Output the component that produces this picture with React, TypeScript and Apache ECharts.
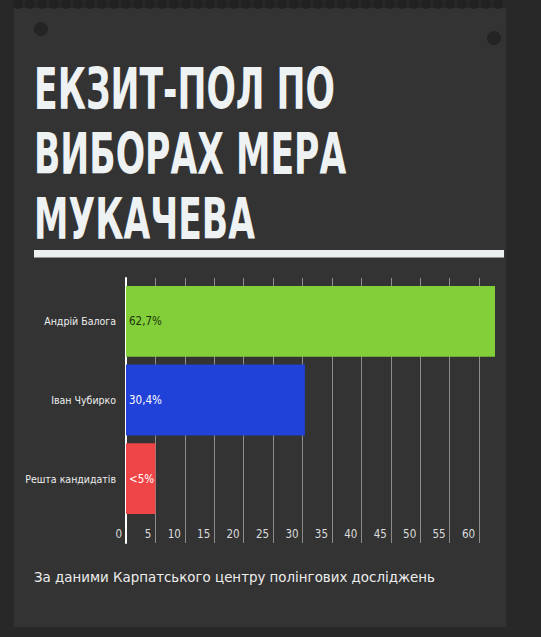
import React, { useEffect, useRef } from "react";
import * as echarts from "echarts";

const categories = ["Андрій Балога", "Іван Чубирко", "Решта кандидатів"];
const values = [62.7, 30.4, 5];
const valueLabels = ["62,7%", "30,4%", "<5%"];
const barColors = ["#83cf39", "#2142d9", "#ef4547"];
const labelColors = ["#1d330c", "#ffffff", "#ffffff"];
const titleLines = ["ЕКЗИТ-ПОЛ ПО", "ВИБОРАХ МЕРА", "МУКАЧЕВА"];
const footnote = "За даними Карпатського центру полінгових досліджень";
const axisMax = 62.7;
const tickStep = 5;

const NARROW = '"DejaVu Sans Condensed", "Liberation Sans Narrow", sans-serif';

export default function App() {
  const ref = useRef<HTMLDivElement>(null);
  useEffect(() => {
    if (!ref.current) return;
    const chart = echarts.init(ref.current, null, { renderer: "svg" });

    const scallops: any[] = [];
    for (let x = 18; x <= 504; x += 12) {
      scallops.push({
        type: "circle",
        shape: { cx: x, cy: 4, r: 5 },
        style: { fill: "#222222" },
        silent: true,
      });
    }

    const titleTexts = titleLines.map((t, i) => ({
      type: "text",
      x: 34,
      y: 89 + i * 65,
      scaleX: 0.675,
      style: {
        text: t,
        fill: "#eef2f3",
        font: 'bold 57px "DejaVu Sans Condensed", "DejaVu Sans", sans-serif',
        verticalAlign: "middle",
        align: "left",
      },
    }));

    chart.setOption({
      animation: false,
      backgroundColor: "#282828",
      graphic: [
        { type: "rect", shape: { x: 14, y: 8, width: 492, height: 619 }, style: { fill: "#333333" }, silent: true, z: -10 },
        ...scallops,
        { type: "circle", shape: { cx: 41, cy: 29, r: 7 }, style: { fill: "#242424" } },
        { type: "circle", shape: { cx: 494, cy: 38, r: 7 }, style: { fill: "#242424" } },
        ...titleTexts,
        { type: "rect", shape: { x: 34, y: 250, width: 470, height: 7.5 }, style: { fill: "#ecf0f1" } },
        {
          type: "text",
          x: 34,
          y: 577,
          style: {
            text: footnote,
            fill: "#eeeeee",
            font: '13.4px "DejaVu Sans", sans-serif',
            verticalAlign: "middle",
          },
        },
      ],
      grid: [
        { left: 126, right: 46, top: 282, bottom: 119 },
        { left: 126, right: 46, top: 278, bottom: 94 },
      ],
      xAxis: [
        { gridIndex: 0, type: "value", min: 0, max: axisMax, show: false },
        {
          gridIndex: 1,
          type: "value",
          min: 0,
          max: axisMax,
          interval: tickStep,
          axisLine: { show: false },
          axisTick: { show: false },
          splitLine: { show: true, showMinLine: false, showMaxLine: false, lineStyle: { color: "#8c8c8c", width: 1 } },
          axisLabel: {
            inside: true,
            margin: 3,
            align: "right",
            padding: [0, 4, 0, 0],
            color: "#dddddd",
            fontSize: 11.5,
            fontFamily: NARROW,
            showMaxLabel: false,
          },
        },
      ],
      yAxis: [
        {
          gridIndex: 0,
          type: "category",
          data: categories,
          inverse: true,
          axisLine: { show: false },
          axisTick: { show: false },
          splitLine: { show: false },
          axisLabel: { color: "#eeeeee", fontSize: 10.5, margin: 10, fontFamily: NARROW },
        },
        {
          gridIndex: 1,
          type: "value",
          axisLine: { show: true, lineStyle: { color: "#ffffff", width: 2 } },
          axisTick: { show: false },
          axisLabel: { show: false },
          splitLine: { show: false },
        },
      ],
      series: [
        {
          type: "bar",
          xAxisIndex: 0,
          yAxisIndex: 0,
          barCategoryGap: "10%",
          data: values.map((v, i) => ({
            value: v,
            itemStyle: { color: barColors[i] },
            label: { color: labelColors[i] },
          })),
          label: {
            show: true,
            position: "insideLeft",
            distance: 3,
            fontSize: 11.5,
            fontFamily: NARROW,
            formatter: (p: any) => valueLabels[p.dataIndex],
          },
        },
      ],
    });
    return () => chart.dispose();
  }, []);
  return <div ref={ref} style={{ position: "absolute", left: 0, top: 0, width: 541, height: 637 }} />;
}
